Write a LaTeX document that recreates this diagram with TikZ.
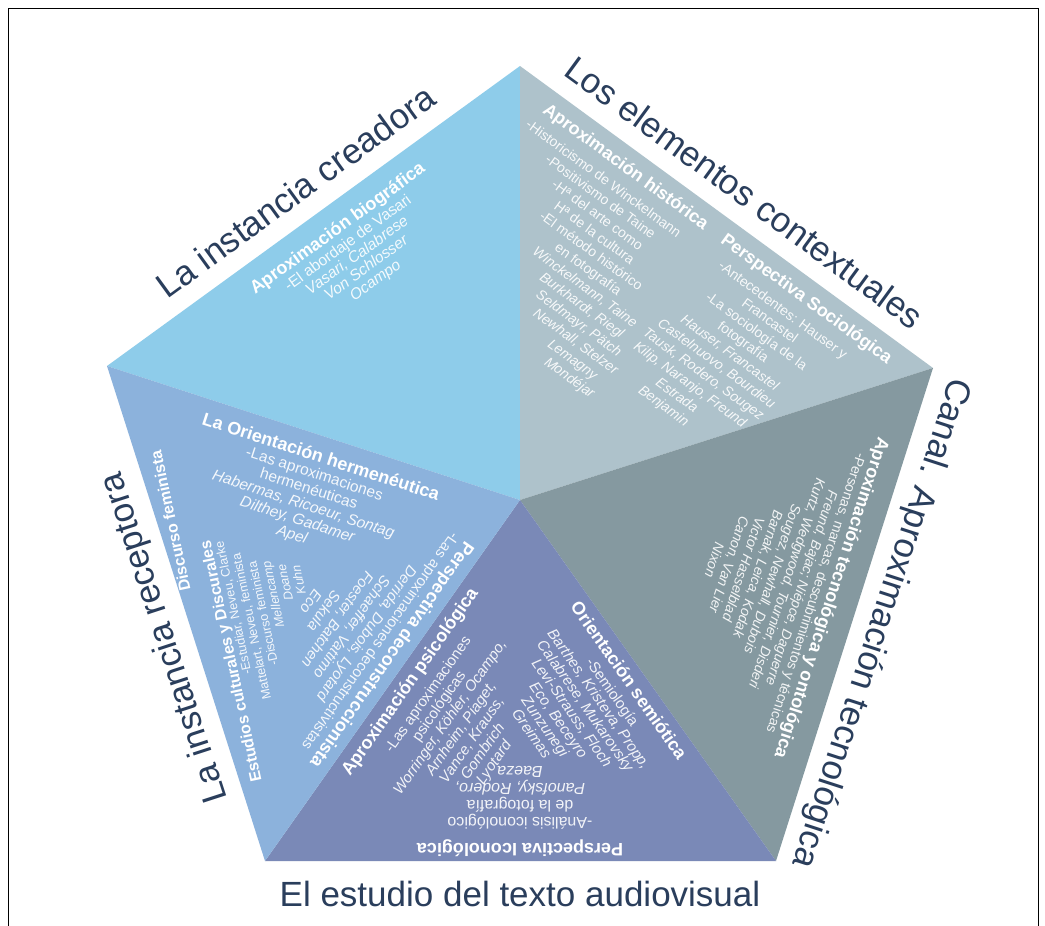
\documentclass[tikz,border=0pt]{standalone}
\usepackage{fontspec}
\setmainfont{Liberation Sans}
\definecolor{creaCol}{RGB}{142,204,234}
\definecolor{contCol}{RGB}{174,194,203}
\definecolor{canalCol}{RGB}{133,153,160}
\definecolor{textoCol}{RGB}{122,137,183}
\definecolor{recepCol}{RGB}{140,178,220}
\definecolor{titleCol}{RGB}{42,62,92}
\begin{document}
\begin{tikzpicture}[x=1pt,y=-1pt,
  ttl/.style={text=titleCol,inner sep=0pt,anchor=base,font=\fontsize{35}{35}\selectfont},
  hd/.style={text=white,inner sep=0pt,anchor=base,font=\fontsize{#1}{#1}\selectfont\bfseries},
  hd/.default=18,
  itm/.style={text=white,text opacity=0.9,inner sep=0pt,anchor=base,font=\fontsize{#1}{#1}\selectfont},
  itm/.default=14,
  nm/.style={itm=#1,font=\fontsize{#1}{#1}\selectfont\itshape},
  nm/.default=14]

\useasboundingbox (0,0) rectangle (1045,926);
\fill[white] (0,0) rectangle (1045,926);

% pentagon corners and centre
\coordinate (T)  at (520,66);
\coordinate (R)  at (933,368);
\coordinate (BR) at (776,861);
\coordinate (BL) at (265,861);
\coordinate (L)  at (107,366);
\coordinate (C)  at (520,500);

% the five sectors
\fill[creaCol]  (T) -- (L) -- (C) -- cycle;
\fill[contCol]  (T) -- (R) -- (C) -- cycle;
\fill[canalCol] (R) -- (BR) -- (C) -- cycle;
\fill[textoCol] (BR) -- (BL) -- (C) -- cycle;
\fill[recepCol] (BL) -- (L) -- (C) -- cycle;

% frame
\draw[line width=1pt] (8,926) -- (8,8) -- (1038,8) -- (1038,926);

% titles along the edges
\node[ttl,rotate=36]   (tCrea)  at (302.9,201.4) {La instancia creadora};
\node[ttl,rotate=-36.2](tCont)  at (737.1,202.5) {Los elementos contextuales};
\node[ttl,rotate=-108] (tCanal) at (871.6,620)   {Canal. Aproximación tecnológica};
\node[ttl]             (tTexto) at (520,906)     {El estudio del texto audiovisual};
\node[ttl,rotate=108]  (tRecep) at (174,635)     {La instancia receptora};

% creadora
\begin{scope}[shift={(337.5,228.5)},rotate=36,transform shape]
\node[hd] (bioH) at (0,5.5) {Aproximación biográfica};
\node[itm=15.5] (bio1) at (0,22.5) {-El abordaje de Vasari};
\node[nm=15.5] (bio2) at (0,38) {Vasari, Calabrese};
\node[nm=15.5] (bio3) at (0,53.5) {Von Schlosser};
\node[nm=15.5] (bio4) at (0,69) {Ocampo};
\end{scope}

% contextuales: two columns
\begin{scope}[shift={(520,66)},rotate=-36.2,transform shape]
\node[hd] (histH) at (145,24.4) {Aproximación histórica};
\node[hd] (socH)  at (369,24.4) {Perspectiva Sociológica};
\node[itm] (h1)  at (134,46.2)   {-Historicismo de Winckelmann};
\node[itm] (h2)  at (142.2,62.6) {-Positivismo de Taine};
\node[itm] (h3)  at (150.4,79)   {-Hª del arte como};
\node[itm] (h4)  at (158.6,95.4) {Hª de la cultura};
\node[itm] (h5)  at (166.8,111.8){-El método histórico};
\node[itm] (h6)  at (175,128.2)  {en fotografía};
\node[nm]  (h7)  at (183.2,144.6){Winckelmann, Taine};
\node[nm]  (h8)  at (191.4,161)  {Burkhardt, Riegl};
\node[nm]  (h9)  at (199.6,177.4){Seldmayr, Pätch};
\node[nm]  (h10) at (207.8,193.8){Newhall, Stelzer};
\node[nm]  (h11) at (216,210.2)  {Lemagny};
\node[nm]  (h12) at (224.2,226.6){Mondéjar};
\node[itm] (s1)  at (356.5,46.2) {-Antecedentes: Hauser y};
\node[itm] (s2)  at (352.1,62.6) {Francastel};
\node[itm] (s3)  at (347.6,79)   {-La sociología de la};
\node[itm] (s4)  at (343.2,95.4) {fotografía};
\node[nm]  (s5)  at (338.8,111.8){Hauser, Francastel};
\node[nm]  (s6)  at (334.4,128.2){Castelnuovo, Bourdieu};
\node[nm]  (s7)  at (330,144.6)  {Tausk, Rodero, Sougez};
\node[nm]  (s8)  at (325.5,161)  {Kilip, Naranjo, Freund};
\node[nm]  (s9)  at (321.1,177.4){Estrada};
\node[nm]  (s10) at (316.7,193.8){Benjamin};
\end{scope}

% canal
\begin{scope}[shift={(831.5,598)},rotate=-108,transform shape]
\node[hd] (tecH) at (0,5.4) {Aproximación tecnológica y ontológica};
\node[itm] (tec1) at (0,20.7)  {-Personas, marcas, descubrimientos y técnicas};
\node[nm]  (tec2) at (0,36)    {Freund, Bajac; Niépce, Daguerre};
\node[nm]  (tec3) at (0,51.3)  {Kurtz, Wedgwood, Tournier, Disderi};
\node[nm]  (tec4) at (0,66.6)  {Sougez, Newhall, Dubois};
\node[nm]  (tec5) at (0,81.9)  {Barnak, Leica, Kodak};
\node[nm]  (tec6) at (0,97.2)  {Victor Hasselblad};
\node[nm]  (tec7) at (0,112.5) {Canon, Van Lier};
\node[nm]  (tec8) at (0,127.8) {Nixon};
\end{scope}

% texto audiovisual: psicológica
\begin{scope}[shift={(410,682)},rotate=55,transform shape]
\node[hd] (psiH) at (0,5.4) {Aproximación psicológica};
\node[itm=15] (psi1) at (0,26.5)  {-Las aproximaciones};
\node[itm=15] (psi2) at (-3,42)   {psicológicas};
\node[nm=15]  (psi3) at (-6,57.5) {Worringer, Köhler, Ocampo,};
\node[nm=15]  (psi4) at (-9,73)   {Arnheim, Piaget,};
\node[nm=15]  (psi5) at (-12,88.5){Vance, Krauss,};
\node[nm=15]  (psi6) at (-15,104) {Gombrich};
\node[nm=15]  (psi7) at (-18,119.5){Lyotard};
\end{scope}

% texto audiovisual: semiótica
\begin{scope}[shift={(628.3,680.8)},rotate=-55,transform shape]
\node[hd] (semH) at (0,5.4) {Orientación semiótica};
\node[itm=15] (sem1) at (0,24.5)   {-Semiología};
\node[nm=15]  (sem2) at (-2,39.5)  {Barthes, Kristeva, Propp,};
\node[nm=15]  (sem3) at (-4,54.5)  {Calabrese, Mukarovsky};
\node[nm=15]  (sem4) at (-6,69.5)  {Levi-Strauss, Floch};
\node[nm=15]  (sem5) at (-8,84.5)  {Eco, Beceyro};
\node[nm=15]  (sem6) at (-10,99.5) {Zunzunegi};
\node[nm=15]  (sem7) at (-12,114.5){Greimas};
\end{scope}

% texto audiovisual: iconológica
\begin{scope}[shift={(520,849)},rotate=180,transform shape]
\node[hd] (icoH) at (0,5.4) {Perspectiva Iconológica};
\node[itm=16] (ico1) at (0,31.5) {-Análisis iconológico};
\node[itm=16] (ico2) at (0,48.5) {de la fotografía};
\node[nm=16]  (ico3) at (0,65.5) {Panofsky, Rodero,};
\node[nm=16]  (ico4) at (0,82.5) {Baeza};
\end{scope}

% receptora: hermenéutica
\begin{scope}[shift={(320.8,457.5)},rotate=-18,transform shape]
\node[hd] (herH) at (0,5.4) {La Orientación hermenéutica};
\node[itm=15.5] (her1) at (-1,22.3)  {-Las aproximaciones};
\node[itm=15.5] (her2) at (-1.5,38.5) {hermenéuticas};
\node[nm=15.5]  (her3) at (-2,54.7)  {Habermas, Ricoeur, Sontag};
\node[nm=15.5]  (her4) at (-3,70.9)  {Dilthey, Gadamer};
\node[nm=15.5]  (her5) at (-3.5,87.1) {Apel};
\end{scope}

% receptora: estudios culturales y discurso feminista
\begin{scope}[shift={(231,661.5)},rotate=102,transform shape]
\node[hd=16] (estH) at (0,5) {Estudios culturales y Discurales};
\node[hd=16] (femH) at (150,-24.5) {Discurso feminista};
\node[itm=12.5] (est1) at (52,17.5) {-Estudiar, Neveu, Clarke};
\node[itm=12.5] (est2) at (30,31.5) {Mattelart, Neveu, feminista};
\node[itm=12.5] (est3) at (40,45.5) {-Discurso feminista};
\node[nm=12.5]  (est4) at (57,59.5) {Mellencamp};
\node[nm=12.5]  (est5) at (66,73.5) {Doane};
\node[nm=12.5]  (est6) at (66,87.5) {Kuhn};
\end{scope}

% receptora: deconstrucción
\begin{scope}[shift={(391.7,655)},rotate=-125,transform shape]
\node[hd] (decH) at (0,5.4) {Perspectiva deconstruccionista};
\node[itm=15] (dec1) at (-5,22)  {-Las aproximaciones deconstructivistas};
\node[nm=15]  (dec2) at (-3,37.5){Derrida, Dubois, Lyotard};
\node[nm=15]  (dec3) at (0,53.5) {Schaeffer, Vattimo};
\node[nm=15]  (dec4) at (2,69.5) {Foester, Batchen};
\node[nm=15]  (dec5) at (3,85.5) {Sekula};
\node[nm=15]  (dec6) at (3,101.5){Eco};
\end{scope}
\end{tikzpicture}
\end{document}
